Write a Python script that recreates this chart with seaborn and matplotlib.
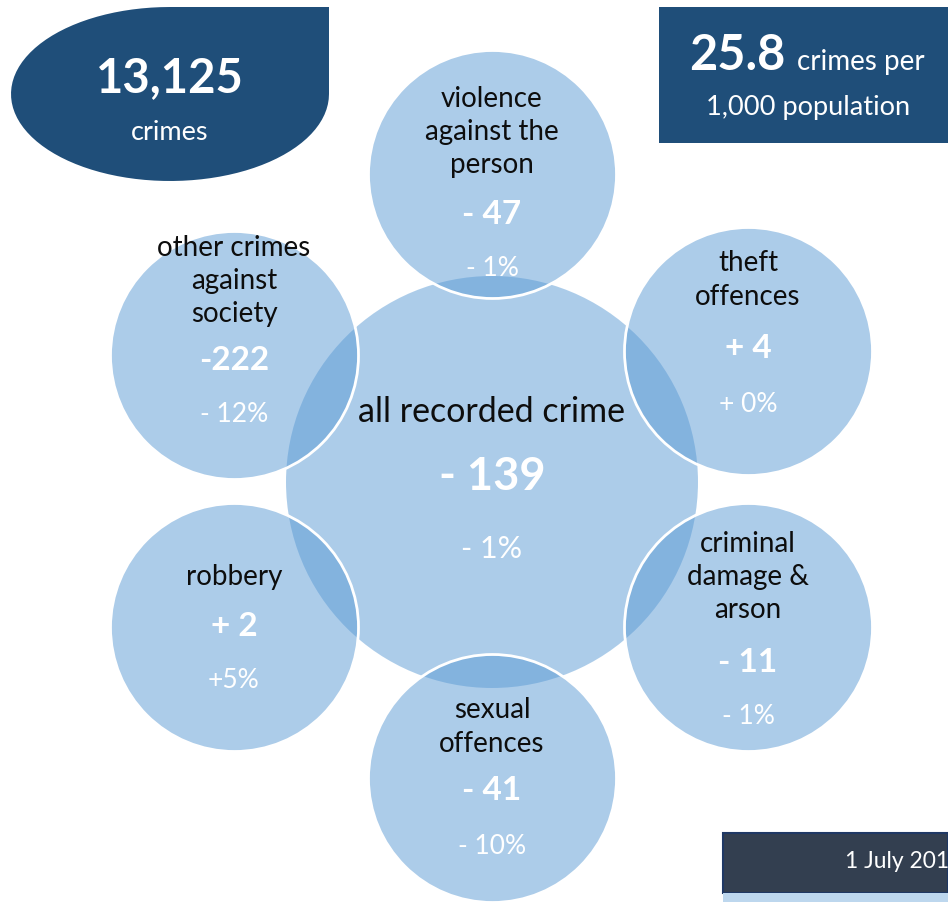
import numpy as np
import matplotlib
matplotlib.use("Agg")
import matplotlib.pyplot as plt
from matplotlib.path import Path
from matplotlib.patches import PathPatch, Rectangle
import seaborn as sns

# ---- data ----
categories = ["violence\nagainst the\nperson", "theft\noffences", "criminal\ndamage &\narson",
              "sexual\noffences", "robbery", "other crimes\nagainst\nsociety"]
changes = ["- 47", "+ 4", "- 11", "- 41", "+ 2", "-222"]
pct_changes = ["- 1%", "+ 0%", "- 1%", "- 10%", "+5%", "- 12%"]
total_label = "all recorded crime"
total_change = "- 139"
total_pct = "- 1%"
total_crimes = "13,125"
rate = "25.8"
date_text = "1 July 201"

# ---- layout (pixels, y down) ----
cx = [492, 748, 748, 492, 234, 234]
cy = [174, 351, 627, 778, 627, 355]
label_y = [132, 280, 577, 727, 577, 281]
value_y = [214, 349, 663, 791, 627, 361]
pct_y = [268, 404, 717, 846, 681, 414]
r_small, r_big = 124, 206
center = (492, 482)

sns.set_theme(style="white")
plt.rcParams["font.family"] = ["Lato", "DejaVu Sans"]

W, H = 948, 902
fig = plt.figure(figsize=(W / 100, H / 100), dpi=100)
ax = fig.add_axes([0, 0, 1, 1])
ax.set_xlim(0, W)
ax.set_ylim(H, 0)
ax.axis("off")

blue = "#5B9BD5"
px2pt = 72 / 100


def bubbles(xs, ys, r, edge):
    sns.scatterplot(x=xs, y=ys, s=(2 * r * px2pt) ** 2, color=blue, ax=ax, legend=False)
    pts = ax.collections[-1]
    pts.set_alpha(None)
    pts.set_facecolor(matplotlib.colors.to_rgba(blue, 0.5))
    if edge:
        pts.set_edgecolor("white")
        pts.set_linewidth(2)
    else:
        pts.set_edgecolor("none")
        pts.set_linewidth(0)


bubbles([center[0]], [center[1]], r_big, False)
bubbles(cx, cy, r_small, True)

# circle texts
lab_color = "#0d0d0d"
for i in range(len(categories)):
    ax.text(cx[i], label_y[i], categories[i], ha="center", va="center", fontsize=20,
            color=lab_color, linespacing=1.35, zorder=5)
    ax.text(cx[i], value_y[i], changes[i], ha="center", va="center", fontsize=24,
            fontweight="bold", color="white", zorder=5)
    ax.text(cx[i], pct_y[i], pct_changes[i], ha="center", va="center", fontsize=19,
            color="white", zorder=5)

ax.text(center[0], 412, total_label, ha="center", va="center", fontsize=24.5, color=lab_color, zorder=5)
ax.text(center[0], 477, total_change, ha="center", va="center", fontsize=32.5, fontweight="bold",
        color="white", zorder=5)
ax.text(center[0], 549, total_pct, ha="center", va="center", fontsize=22, color="white", zorder=5)

# ---- top-left teardrop badge ----
navy = "#1F4E79"
bx0, bx1, by0, by1 = 11, 329, 7, 181
ecx, ecy = (bx0 + bx1) / 2, (by0 + by1) / 2
rx, ry = (bx1 - bx0) / 2, (by1 - by0) / 2
t = np.linspace(np.pi / 2, 2 * np.pi, 80)
arc = np.column_stack([ecx + rx * np.cos(t), ecy - ry * np.sin(t)])
verts = np.vstack([[bx1, by0], arc, [bx1, by0]])
ax.add_patch(PathPatch(Path(verts), facecolor=navy, edgecolor="none", zorder=6))
ax.text(ecx, 78, total_crimes, ha="center", va="center", fontsize=34, fontweight="bold",
        color="white", zorder=7)
ax.text(ecx, 133, "crimes", ha="center", va="center", fontsize=19.5, color="white", zorder=7)

# ---- top-right rate box ----
ax.add_patch(Rectangle((659, 7), W - 659, 136, facecolor=navy, edgecolor="none", zorder=6))
ax.text(786, 55, rate, ha="right", va="center", fontsize=35, fontweight="bold", color="white", zorder=7)
ax.text(797, 62, "crimes per", ha="left", va="center", fontsize=20, color="white", zorder=7)
ax.text(808, 107, "1,000 population", ha="center", va="center", fontsize=19.6, color="white", zorder=7)

# ---- bottom-right date box ----
ax.add_patch(Rectangle((723, 833), W - 723, 60, facecolor="#333F50", edgecolor="#1F3864",
                       linewidth=1.5, zorder=6))
ax.add_patch(Rectangle((723, 893), W - 723, 9, facecolor="#BDD7EE", edgecolor="none", zorder=6))
ax.text(845, 862, date_text, ha="left", va="center", fontsize=16.5, color="white", zorder=7)

fig.savefig("out.png", dpi=100)
